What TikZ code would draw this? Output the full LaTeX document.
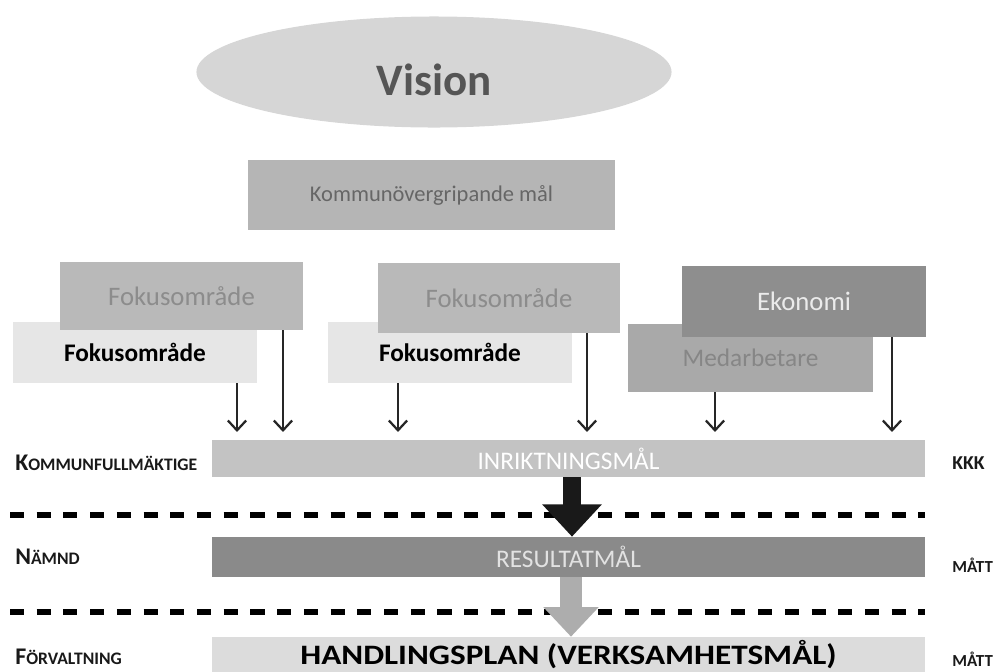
\documentclass[tikz,border=0pt]{standalone}
\usepackage{fontspec}
\setmainfont{Carlito}
\newfontfamily\widebold[FakeStretch=1.18]{Carlito}
\usetikzlibrary{shapes.geometric,arrows.meta}

\definecolor{visionfill}{HTML}{D6D6D6}
\definecolor{visiontext}{HTML}{555555}
\definecolor{komfill}{HTML}{B5B5B5}
\definecolor{komtext}{HTML}{666666}
\definecolor{fokusfill}{HTML}{B9B9B9}
\definecolor{fokustext}{HTML}{8C8C8C}
\definecolor{fokuslight}{HTML}{E6E6E6}
\definecolor{ekofill}{HTML}{8E8E8E}
\definecolor{ekotext}{HTML}{EBEBEB}
\definecolor{medfill}{HTML}{A9A9A9}
\definecolor{medtext}{HTML}{868686}
\definecolor{inriktfill}{HTML}{C3C3C3}
\definecolor{resultfill}{HTML}{8A8A8A}
\definecolor{resulttext}{HTML}{E2E2E2}
\definecolor{handlfill}{HTML}{DCDCDC}
\definecolor{downgray}{HTML}{ADADAD}

\newcommand{\levelcaps}[2]{{\fontsize{17}{20}\selectfont #1}{\fontsize{12.5}{15}\selectfont #2}}

\begin{document}
\begin{tikzpicture}[x=0.025cm,y=-0.025cm,
    box/.style={rectangle,inner sep=0pt,minimum width=6.1cm,minimum height=1.7cm},
    bar/.style={rectangle,inner sep=0pt,minimum width=17.825cm},
    thin arrow/.style={-{Straight Barb[length=7pt,width=13pt]},line width=1.6pt,draw=black!85,
      shorten >=5.5pt},
    level/.style={anchor=west,inner sep=0pt,text=black!90},
    unit/.style={level,font=\fontsize{12}{14}\selectfont\bfseries},
    sep line/.style={line width=4pt,dash pattern=on 10pt off 9pt}]
  \useasboundingbox (0,0) rectangle (996,672);

  \node[ellipse,inner sep=0pt,minimum width=11.875cm,minimum height=2.775cm,fill=visionfill,
    text=visiontext,font=\fontsize{32}{36}\selectfont\bfseries,text height=33pt,text depth=0pt]
    (vision) at (434,72) {Vision};
  \node[box,minimum width=9.175cm,minimum height=1.75cm,fill=komfill,text=komtext,
    font=\fontsize{16}{19}\selectfont] (kom) at (431.5,195) {Kommunövergripande mål};

  % fokusområden, lower boxes first
  \node[box,minimum height=1.525cm,fill=fokuslight,font=\fontsize{18}{21}\selectfont\bfseries]
    (fokusA2) at (135,352.5) {Fokusområde};
  \node[box,minimum width=6.075cm,fill=fokusfill,text=fokustext,font=\fontsize{19}{22}\selectfont]
    (fokusA1) at (181.5,296) {Fokusområde};
  \node[box,minimum height=1.525cm,fill=fokuslight,font=\fontsize{18}{21}\selectfont\bfseries]
    (fokusB2) at (450,352.5) {Fokusområde};
  \node[box,minimum width=6.05cm,minimum height=1.75cm,fill=fokusfill,text=fokustext,
    font=\fontsize{19}{22}\selectfont] (fokusB1) at (499,298) {Fokusområde};
  \node[box,minimum width=6.125cm,fill=medfill,text=medtext,font=\fontsize{18}{21}\selectfont]
    (med) at (750.5,358) {Medarbetare};
  \node[box,minimum height=1.775cm,fill=ekofill,text=ekotext,font=\fontsize{19}{22}\selectfont]
    (eko) at (804,301.5) {Ekonomi};

  % levels
  \node[bar,minimum height=0.925cm,fill=inriktfill,text=white,font=\fontsize{18}{21}\selectfont]
    (inrikt) at (568.5,458.5) {INRIKTNINGSMÅL};
  \node[bar,minimum height=1cm,fill=resultfill,text=resulttext,font=\fontsize{18}{21}\selectfont]
    (result) at (568.5,557) {RESULTATMÅL};
  \node[bar,minimum height=0.875cm,fill=handlfill,font=\widebold\fontsize{20}{22}\selectfont\bfseries]
    (handl) at (568.5,654.5) {HANDLINGSPLAN (VERKSAMHETSMÅL)};

  \draw[sep line] (10,515) -- (925,515);
  \draw[sep line] (10,612) -- (925,612);

  \node[level] (kf) at (15,463) {\bfseries\levelcaps{K}{OMMUNFULLMÄKTIGE}};
  \node[level] (nm) at (15,557) {\bfseries\levelcaps{N}{ÄMND}};
  \node[level] (fv) at (15,657) {\bfseries\levelcaps{F}{ÖRVALTNING}};
  \node[unit,font=\fontsize{14}{16}\selectfont\bfseries] (kkk) at (952,463) {KKK};
  \node[unit] (mattB) at (952,565) {MÅTT};
  \node[unit] (mattC) at (952,659) {MÅTT};

  \draw[thin arrow] (fokusA2.south -| 237,0) -- (inrikt.north -| 237,0);
  \draw[thin arrow] (fokusA1.south -| 283,0) -- (inrikt.north -| 283,0);
  \draw[thin arrow] (fokusB2.south -| 398,0) -- (inrikt.north -| 398,0);
  \draw[thin arrow] (fokusB1.south -| 587,0) -- (inrikt.north -| 587,0);
  \draw[thin arrow] (med.south -| 715,0) -- (inrikt.north -| 715,0);
  \draw[thin arrow] (eko.south -| 892,0) -- (inrikt.north -| 892,0);

  \draw[line width=12.8pt,draw=black!90,-{Triangle[width=41pt,length=23pt]}]
    (inrikt.south -| 572,0) -- (result.north -| 572,0);
  \draw[line width=15.6pt,draw=downgray,-{Triangle[width=38pt,length=21pt]}]
    (result.south -| 571,0) -- (handl.north -| 571,0);
\end{tikzpicture}
\end{document}
